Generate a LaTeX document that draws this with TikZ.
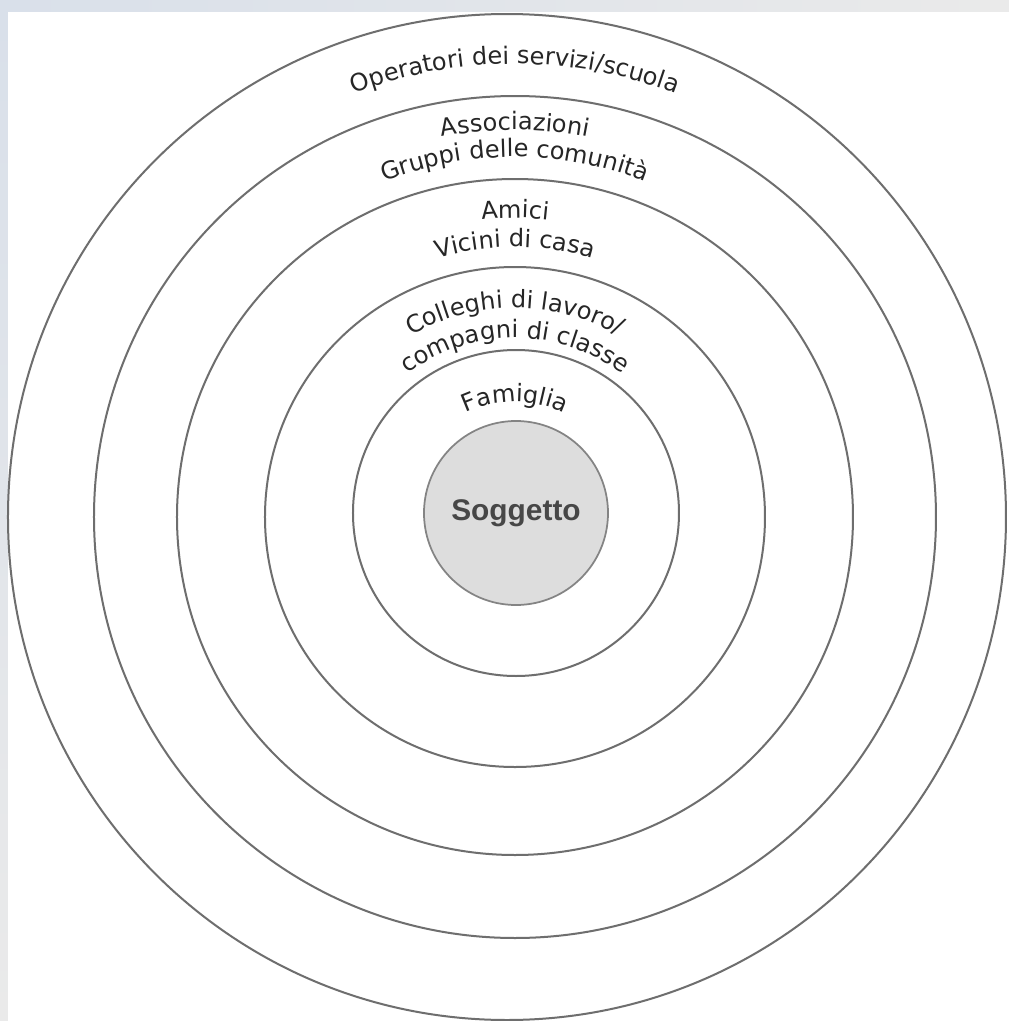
\documentclass[tikz,border=0pt]{standalone}
\usepackage{fontspec}
\setmainfont{DejaVu Sans}
\newfontfamily\soggfamily{Liberation Sans}
\usetikzlibrary{decorations.text}
\definecolor{Anello}{HTML}{6E6E6E}
\definecolor{Inchiostro}{HTML}{262626}
\definecolor{GrigioCentro}{HTML}{DDDDDD}
\definecolor{GrigioTesto}{HTML}{474747}
\definecolor{Banda}{HTML}{D9E0EA}
\definecolor{BandaChiara}{HTML}{EAEAEA}
\newcommand{\ringfont}{\fontsize{13.7}{16}\selectfont}

\begin{document}
\begin{tikzpicture}[
  x=0.2mm, y=0.2mm,
  ring/.style={draw=Anello, line width=0.4mm},
  ringlabel/.style={decorate, decoration={text along path, text align=center, text color=Inchiostro}},
  subject/.style={circle, draw=Anello!85, line width=0.35mm, fill=GrigioCentro, minimum size=36.8mm,
    inner sep=0pt, text=GrigioTesto, font=\soggfamily\bfseries\fontsize{17}{20}\selectfont}
]
  \useasboundingbox (-515,-504) rectangle (494,517);
  \fill[white] (-515,-504) rectangle (494,517);
  % bordo della schermata
  \shade[left color=Banda, right color=BandaChiara] (-515,506) rectangle (494,517);
  \shade[top color=Banda, bottom color=BandaChiara] (-515,-504) rectangle (-507,506);

  \coordinate (c) at (0,0);
  \coordinate (ci) at (1,4);

  % anelli concentrici
  \draw[ring] (-8,0) ellipse[x radius=499, y radius=503];
  \draw[ring] (c) circle[radius=421];
  \draw[ring] (c) circle[radius=338];
  \draw[ring] (c) circle[radius=250];
  \draw[ring] (ci) circle[radius=163];
  \node[subject] (sogg) at (ci) {Soggetto};

  % etichette lungo gli anelli
  \path[ringlabel, decoration={text={|\ringfont|Operatori dei servizi/scuola}}]
    (165:453) arc[start angle=165, end angle=15, radius=453];
  \path[ringlabel, decoration={text={|\ringfont|Associazioni}}]
    (165:387) arc[start angle=165, end angle=15, radius=387];
  \path[ringlabel, decoration={text={|\ringfont|Gruppi delle comunità}}]
    (165:360) arc[start angle=165, end angle=15, radius=360];
  \path[ringlabel, decoration={text={|\ringfont|Amici}}]
    (165:299) arc[start angle=165, end angle=15, radius=299];
  \path[ringlabel, decoration={text={|\ringfont|Vicini di casa}}]
    (165:270) arc[start angle=165, end angle=15, radius=270];
  \path[ringlabel, decoration={text={|\ringfont|Colleghi di lavoro/}}]
    (170:209) arc[start angle=170, end angle=10, radius=209];
  \path[ringlabel, decoration={text={|\ringfont|compagni di classe}}]
    (170:179) arc[start angle=170, end angle=10, radius=179];
  \path[ringlabel, decoration={text={|\ringfont|Famiglia}}]
    (170:115) arc[start angle=170, end angle=10, radius=115];
\end{tikzpicture}
\end{document}
